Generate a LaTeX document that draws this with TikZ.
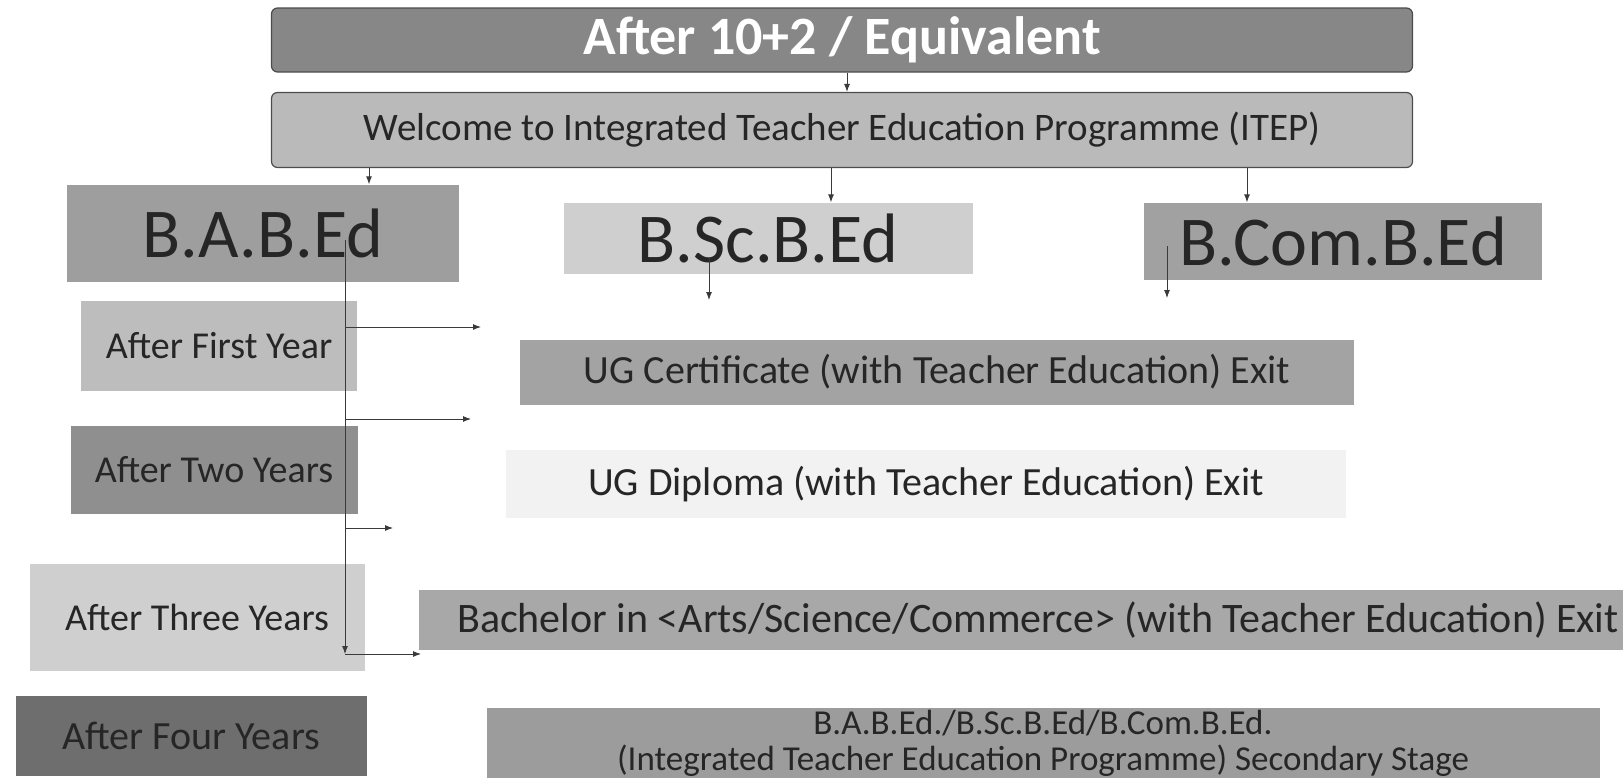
\documentclass[tikz,border=0pt]{standalone}
\usepackage{fontspec}
\setmainfont{Carlito}
\usetikzlibrary{arrows.meta}

\definecolor{inkgray}{HTML}{262626}
\definecolor{linegray}{HTML}{3A3A3A}

\begin{document}
\begin{tikzpicture}[x=1pt,y=-1pt,
    hbox/.style={draw=black!70,line width=1.2pt,rounded corners=6pt,inner sep=0pt},
    pbox/.style={inner sep=0pt,text=inkgray,font=\fontsize{70}{80}\selectfont},
    ybox/.style={inner sep=0pt,text=inkgray,font=\fontsize{38}{44}\selectfont},
    xbox/.style={inner sep=0pt,text=inkgray,font=\fontsize{40}{46}\selectfont},
    arr/.style={draw=linegray,line width=0.9pt,-{Latex[length=8pt,width=6pt]}}]
  \useasboundingbox (0,0) rectangle (1623,780);
  % heading boxes
  \node[hbox,fill=black!47,minimum width=1141pt,minimum height=64pt,text=white,
        font=\bfseries\fontsize{54}{60}\selectfont] (after) at (842,40) {After 10+2 / Equivalent};
  \node[hbox,fill=black!27,minimum width=1141pt,minimum height=75pt,text=inkgray,
        font=\fontsize{39}{44}\selectfont] (welcome) at (842,130) {Welcome to Integrated Teacher Education Programme (ITEP)};
  % programmes
  \node[pbox,fill=black!38,minimum width=392pt,minimum height=97pt] (babed) at (263,233) {B.A.B.Ed};
  \node[pbox,fill=black!19,minimum width=409pt,minimum height=71pt] (bscbed) at (768,238) {B.Sc.B.Ed};
  \node[pbox,fill=black!37,minimum width=398pt,minimum height=77pt] (bcombed) at (1343,241) {B.Com.B.Ed};
  % years
  \node[ybox,fill=black!26,minimum width=276pt,minimum height=90pt] (year1) at (219,346) {After First Year};
  \node[ybox,fill=black!44,minimum width=287pt,minimum height=88pt] (year2) at (214,470) {After Two Years};
  \node[ybox,fill=black!19,minimum width=335pt,minimum height=107pt] (year3) at (197,617) {After Three Years};
  \node[ybox,fill=black!57,minimum width=351pt,minimum height=80pt,
        font=\fontsize{40}{46}\selectfont] (year4) at (191,736) {After Four Years};
  % exits
  \node[xbox,fill=black!36,minimum width=834pt,minimum height=65pt] (cert) at (937,372) {UG Certificate (with Teacher Education) Exit};
  \node[xbox,fill=black!5,minimum width=840pt,minimum height=68pt] (diploma) at (926,484) {UG Diploma (with Teacher Education) Exit};
  \node[xbox,fill=black!34,minimum width=1238pt,minimum height=60pt,
        font=\fontsize{42}{48}\selectfont] (bachelor) at (1038,620) {Bachelor in {<}Arts/Science/Commerce{>} (with Teacher Education) Exit};
  \node[xbox,fill=black!39,minimum width=1113pt,minimum height=70pt,align=center,
        font=\fontsize{35}{36}\selectfont] (degree) at (1043,743) {B.A.B.Ed./B.Sc.B.Ed/B.Com.B.Ed.\\(Integrated Teacher Education Programme) Secondary Stage};
  % connectors
  \draw[arr] ([xshift=5pt]after.south) -- ([xshift=5pt]welcome.north);
  \draw[arr] ([xshift=-473pt]welcome.south) -- ([xshift=106pt]babed.north);
  \draw[arr] ([xshift=-11pt]welcome.south) -- ([xshift=63pt]bscbed.north);
  \draw[arr] ([xshift=405pt]welcome.south) -- ([xshift=-96pt]bcombed.north);
  \coordinate (t0) at (345,240);
  \coordinate (t4) at (345,654);
  \coordinate (e1) at (481,327);
  \coordinate (e2) at (471,419);
  \coordinate (e3) at (393,528);
  \coordinate (e4) at (421,654);
  \draw[arr] (t0) -- (t4);
  \draw[arr] (t0 |- e1) -- (e1);
  \draw[arr] (t0 |- e2) -- (e2);
  \draw[arr] (t0 |- e3) -- (e3);
  \draw[arr] (t4) -- (e4);
  \coordinate (s0) at (709,258);
  \coordinate (s1) at (709,300);
  \coordinate (c0) at (1167,246);
  \coordinate (c1) at (1167,298);
  \draw[arr] (s0) -- (s1);
  \draw[arr] (c0) -- (c1);
\end{tikzpicture}
\end{document}
